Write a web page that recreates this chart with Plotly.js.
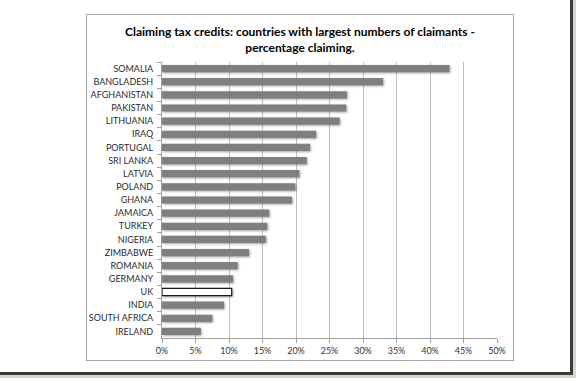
<!DOCTYPE html>
<html>
<head>
<meta charset="utf-8">
<script src="https://cdn.plot.ly/plotly-3.0.1.min.js"></script>
<style>
  html, body { margin:0; padding:0; width:576px; height:378px; overflow:hidden; background:#d8d6d0; }
  #page { position:absolute; left:0; top:0; width:570px; height:372px; background:#fff;
          border-right:3px solid #3a3a3a; border-bottom:3px solid #3a3a3a; }
  #frame { position:absolute; left:86px; top:14px; width:426px; height:345px; border:1px solid #a6a6a6; background:#fff; }
  #chart { position:absolute; left:0; top:0; width:576px; height:378px; }
  .bars path { filter: drop-shadow(1.5px 1.5px 1px rgba(0,0,0,0.35)); }
</style>
</head>
<body>
<div id="page"></div>
<div id="frame"></div>
<div id="chart"></div>
<script>
const countries = ["SOMALIA","BANGLADESH","AFGHANISTAN","PAKISTAN","LITHUANIA","IRAQ","PORTUGAL","SRI LANKA","LATVIA","POLAND","GHANA","JAMAICA","TURKEY","NIGERIA","ZIMBABWE","ROMANIA","GERMANY","UK","INDIA","SOUTH AFRICA","IRELAND"];
const percentClaiming = [0.429,0.330,0.276,0.275,0.265,0.230,0.221,0.216,0.205,0.199,0.194,0.160,0.157,0.155,0.130,0.113,0.106,0.104,0.0925,0.075,0.058];
const xTickValues = [0,0.05,0.10,0.15,0.20,0.25,0.30,0.35,0.40,0.45,0.50];
const xTickLabels = ["0%","5%","10%","15%","20%","25%","30%","35%","40%","45%","50%"];
const highlight = "UK";

const fillColors = countries.map(c => c === highlight ? "#ffffff" : "#7f7f7f");
const lineColors = countries.map(c => c === highlight ? "#1a1a1a" : "#7f7f7f");
const lineWidths = countries.map(c => c === highlight ? 1.2 : 0);

const trace = {
  type: "bar",
  orientation: "h",
  y: countries,
  x: percentClaiming,
  marker: { color: fillColors, line: { color: lineColors, width: lineWidths } },
  hoverinfo: "skip"
};

const layout = {
  width: 576, height: 378,
  margin: { l: 162, r: 79, t: 62, b: 40, pad: 0 },
  paper_bgcolor: "rgba(0,0,0,0)",
  plot_bgcolor: "rgba(0,0,0,0)",
  bargap: 0.45,
  showlegend: false,
  font: { family: "Lato, 'Open Sans', sans-serif", size: 9, color: "#333333" },
  title: {
    text: "<b>Claiming tax credits: countries with largest numbers of claimants -<br>percentage claiming.</b>",
    font: { family: "Lato, 'Open Sans', sans-serif", size: 12, color: "#000000", weight: 900 },
    x: 300/576, xref: "container", xanchor: "center",
    y: 1 - 36/378, yref: "container", yanchor: "middle"
  },
  xaxis: {
    range: [0, 0.5],
    tickvals: xTickValues,
    ticktext: xTickLabels,
    showgrid: true, gridcolor: "#c0c0c0", gridwidth: 1,
    zeroline: false,
    showline: true, linecolor: "#a0a0a0", linewidth: 1,
    ticks: "outside", ticklen: 4, tickcolor: "#a0a0a0",
    tickfont: { size: 9, color: "#333333" },
    fixedrange: true
  },
  yaxis: {
    type: "category",
    autorange: "reversed",
    showgrid: false, zeroline: false,
    showline: true, linecolor: "#a0a0a0", linewidth: 1,
    ticks: "outside", ticklen: 4, tickcolor: "#a0a0a0",
    tickson: "boundaries",
    ticklabelstandoff: 6,
    tickfont: { size: 9, color: "#2a2a2a" },
    fixedrange: true
  }
};

Plotly.newPlot("chart", [trace], layout, { displayModeBar: false, staticPlot: true });
</script>
</body>
</html>
